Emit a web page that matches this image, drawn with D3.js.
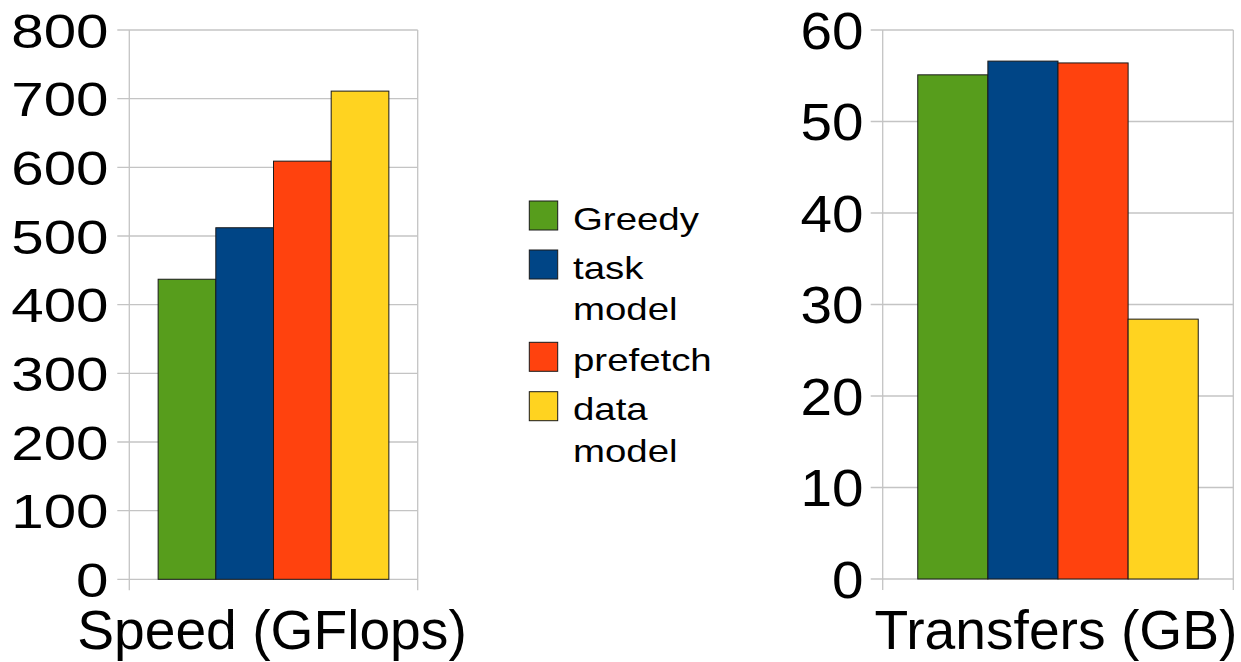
<!DOCTYPE html>
<html>
<head>
<meta charset="utf-8">
<script src="https://cdn.jsdelivr.net/npm/d3@7"></script>
<style>
  html, body { margin: 0; padding: 0; background: #fff; }
  svg { display: block; }
  text { font-family: "Liberation Sans", Arial, sans-serif; fill: #000; }
</style>
</head>
<body>
<svg id="chart" width="1241" height="662"></svg>
<script>
const categories = ["Greedy", "task model", "prefetch", "data model"];
const legendLines = [["Greedy"], ["task", "model"], ["prefetch"], ["data", "model"]];
const colors = ["#579d1c", "#004586", "#ff420e", "#ffd320"];
const speedValues = [437, 512, 609, 711];
const transferValues = [55.1, 56.6, 56.4, 28.4];
const speedTicks = [0, 100, 200, 300, 400, 500, 600, 700, 800];
const transferTicks = [0, 10, 20, 30, 40, 50, 60];
const speedTitle = "Speed (GFlops)";
const transferTitle = "Transfers (GB)";

const svg = d3.select("#chart");

function panel(opts) {
  const g = svg.append("g");
  const y = d3.scaleLinear().domain(opts.domain).range([opts.bottom, opts.top]);
  const x = d3.scaleBand().domain(categories).range([opts.left, opts.right])
    .paddingInner(0).paddingOuter(0.5);

  // gridlines + tick marks
  g.append("g").selectAll("line").data(opts.ticks).join("line")
    .attr("x1", opts.left - 12).attr("x2", opts.right)
    .attr("y1", d => y(d)).attr("y2", d => y(d))
    .attr("stroke", "#c4c4c4").attr("stroke-width", 1.3);

  // vertical axis lines (left axis and right boundary)
  [opts.left, opts.right].forEach(xx => {
    g.append("line")
      .attr("x1", xx).attr("x2", xx)
      .attr("y1", opts.top).attr("y2", opts.bottom + 11)
      .attr("stroke", "#c4c4c4").attr("stroke-width", 1.3);
  });

  // bars
  g.append("g").selectAll("rect").data(categories).join("rect")
    .attr("x", d => x(d))
    .attr("width", x.bandwidth())
    .attr("y", (d, i) => y(opts.values[i]))
    .attr("height", (d, i) => y(0) - y(opts.values[i]))
    .attr("fill", (d, i) => colors[i])
    .attr("stroke", "#1a1a1a").attr("stroke-width", 1);

  // tick labels
  g.append("g").selectAll("text").data(opts.ticks).join("text")
    .attr("text-anchor", "end")
    .attr("font-size", opts.tickSize)
    .attr("transform", d => `translate(${opts.labelX},${y(d) + opts.tickSize * 0.36}) scale(${opts.tickStretch},1)`)
    .text(d => d);

  // title
  g.append("text")
    .attr("text-anchor", "middle")
    .attr("font-size", 55.2)
    .attr("x", opts.titleX)
    .attr("y", 649)
    .text(opts.title);
}

panel({
  domain: [0, 800], ticks: speedTicks, values: speedValues,
  left: 129.3, right: 417.7, top: 30, bottom: 579.3,
  labelX: 108.5, tickSize: 49, tickStretch: 1.19, title: speedTitle, titleX: 272
});

panel({
  domain: [0, 60], ticks: transferTicks, values: transferValues,
  left: 882.7, right: 1233.3, top: 30, bottom: 579,
  labelX: 863.5, tickSize: 52, tickStretch: 1.09, title: transferTitle, titleX: 1056
});

// legend
const legend = svg.append("g");
const itemTops = [201, 250, 342.3, 391.7];
legendLines.forEach((lines, i) => {
  const top = itemTops[i];
  legend.append("rect")
    .attr("x", 529.3).attr("y", top)
    .attr("width", 28.4).attr("height", 29)
    .attr("fill", colors[i])
    .attr("stroke", "#1a1a1a").attr("stroke-width", 1);
  lines.forEach((t, j) => {
    legend.append("text")
      .attr("font-size", 32)
      .attr("transform", `translate(573,${top + 28.5 + j * 41.5}) scale(1.2,1)`)
      .text(t);
  });
});
</script>
</body>
</html>
